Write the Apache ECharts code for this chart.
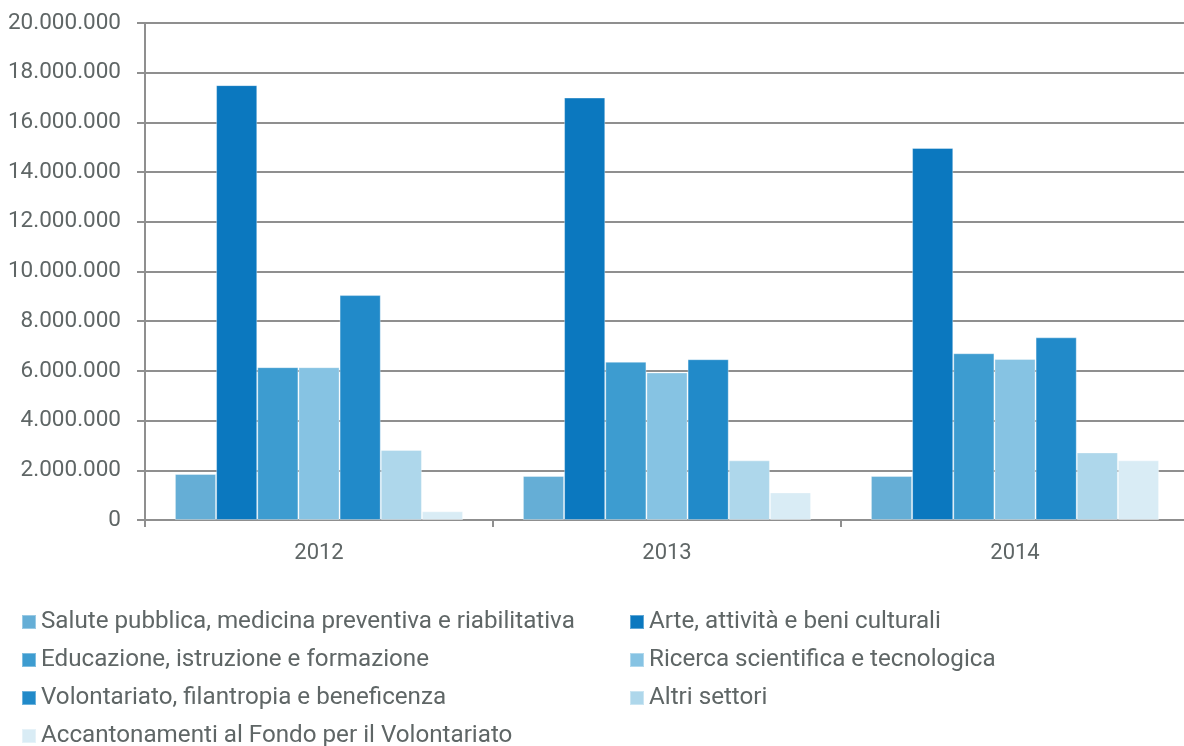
<!DOCTYPE html>
<html>
<head>
<meta charset="utf-8">
<script src="https://cdn.jsdelivr.net/npm/echarts@6/dist/echarts.min.js"></script>
<style>
  html, body { margin: 0; padding: 0; background: #ffffff; }
  #chart { width: 1184px; height: 746px; }
</style>
</head>
<body>
<div id="chart"></div>
<script>
// Anni e importi per settore (euro)
const years = ['2012', '2013', '2014'];
const sectorNames = [
  'Salute pubblica, medicina preventiva e riabilitativa',
  'Arte, attività e beni culturali',
  'Educazione, istruzione e formazione',
  'Ricerca scientifica e tecnologica',
  'Volontariato, filantropia e beneficenza',
  'Altri settori',
  'Accantonamenti al Fondo per il Volontariato'
];
const salute = [1850000, 1770000, 1770000];
const arte = [17500000, 17000000, 14970000];
const educazione = [6150000, 6370000, 6710000];
const ricerca = [6150000, 5940000, 6480000];
const volontariato = [9050000, 6470000, 7350000];
const altri = [2820000, 2400000, 2720000];
const accantonamenti = [350000, 1110000, 2400000];
const yTicks = { min: 0, max: 20000000, interval: 2000000 };

const seriesValues = [salute, arte, educazione, ricerca, volontariato, altri, accantonamenti];
const palette = ['#65AED6', '#0B78BF', '#3D9CD0', '#86C3E3', '#218AC9', '#AED7EB', '#D9ECF5'];

const textColor = '#5f6666';
const gridColor = '#8f8f8f';
const fontFamily = 'Roboto, "Open Sans", sans-serif';

function fmt(v) {
  return String(v).replace(/\B(?=(\d{3})+(?!\d))/g, '.');
}

const chart = echarts.init(document.getElementById('chart'), null, { renderer: 'canvas' });

const legendCommon = {
  orient: 'vertical',
  height: 200,
  itemWidth: 14,
  itemHeight: 14,
  itemGap: 14,
  icon: 'rect',
  padding: 0,
  textStyle: { color: textColor, fontSize: 24.2, lineHeight: 24, fontFamily: fontFamily },
  selectedMode: false
};

chart.setOption({
  color: palette,
  animation: false,
  textStyle: { fontFamily: fontFamily },
  // the last category band runs slightly past the right edge of the canvas
  grid: { left: 145, width: 1044, top: 23, bottom: 226, containLabel: false, outerBoundsMode: 'none' },
  legend: [
    Object.assign({}, legendCommon, {
      left: 21, top: 610,
      data: [sectorNames[0], sectorNames[2], sectorNames[4], sectorNames[6]]
    }),
    Object.assign({}, legendCommon, {
      left: 629, top: 610,
      data: [sectorNames[1], sectorNames[3], sectorNames[5]]
    })
  ],
  xAxis: {
    type: 'category',
    data: years,
    axisLine: { show: true, lineStyle: { color: gridColor, width: 2 } },
    axisTick: { show: true, length: 7, lineStyle: { color: gridColor, width: 2 } },
    axisLabel: { color: textColor, fontSize: 22, margin: 22 }
  },
  yAxis: {
    type: 'value',
    min: yTicks.min,
    max: yTicks.max,
    interval: yTicks.interval,
    axisLine: { show: true, lineStyle: { color: gridColor, width: 2 } },
    axisTick: { show: true, length: 8, lineStyle: { color: gridColor, width: 2 } },
    axisLabel: { color: textColor, fontSize: 22.5, margin: 24, formatter: fmt },
    splitLine: { show: true, lineStyle: { color: gridColor, width: 2 } }
  },
  series: seriesValues.map((vals, i) => ({
    name: sectorNames[i],
    type: 'bar',
    data: vals,
    barGap: '0%',
    barCategoryGap: '17.2%',
    itemStyle: { color: palette[i], borderColor: 'rgba(255,255,255,0.35)', borderWidth: 1 }
  }))
});
</script>
</body>
</html>
